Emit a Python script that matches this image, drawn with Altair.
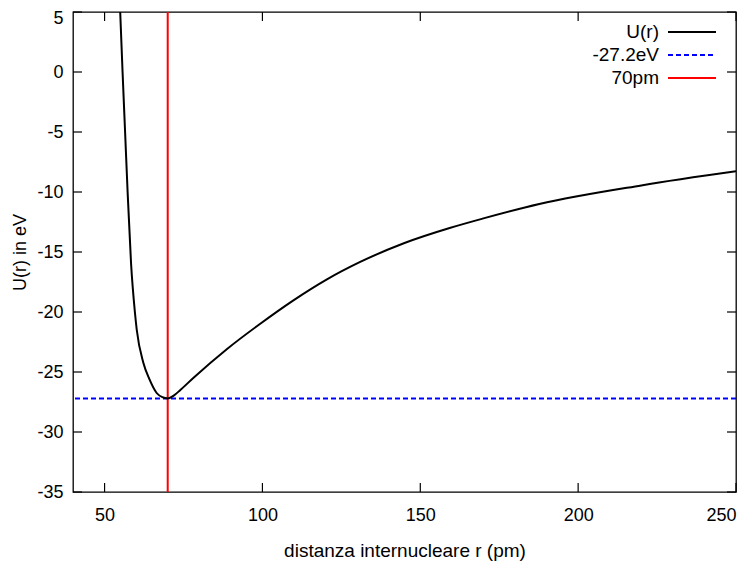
import altair as alt
import pandas as pd

# Curve U(r)
r_vals = [54.95, 55.7, 56.5, 57.3, 58.4, 59.6, 60.2, 62.3, 64.2, 66.5, 68.3, 70.0,
          72.0, 74.0, 78.1, 88.7, 99.2, 109.7, 120.3, 130.8, 145.0, 159.3, 170.0,
          187.7, 220.0, 250.0]
u_vals = [5.0, 0.0, -5.0, -10.0, -16.0, -20.0, -21.5, -24.25, -25.6, -26.75, -27.1, -27.2,
          -26.95, -26.5, -25.5, -23.1, -21.0, -19.05, -17.3, -15.85, -14.25, -13.0, -12.2,
          -11.0, -9.45, -8.28]

energy_level = -27.2
bond_length = 70

x_ticks = [50, 100, 150, 200, 250]
y_ticks = [-35, -30, -25, -20, -15, -10, -5, 0, 5]

legend_labels = ["U(r)", "-27.2eV", "70pm"]
legend_colors = ["#000000", "#0000ff", "#ff0000"]
legend_dash = [[1, 0], [5, 3], [1, 0]]

W, H = 663, 480
FONT = "Liberation Sans"
FS = 18
FS_T = 19
TICK = 9

curve = pd.DataFrame({"r": r_vals, "U": u_vals})
xt = pd.DataFrame({"v": x_ticks})
yt = pd.DataFrame({"v": y_ticks})

xscale = alt.Scale(domain=[40, 250], nice=False, zero=False)
yscale = alt.Scale(domain=[-35, 5], nice=False, zero=False)

base = alt.Chart(curve).mark_line(color="black", strokeWidth=2, clip=True, interpolate="monotone").encode(
    x=alt.X("r:Q", scale=xscale,
            axis=alt.Axis(values=x_ticks, ticks=False, domain=False, grid=False,
                          labelExpr="'' + datum.value",
                          labelFont=FONT, labelFontSize=FS, labelColor="black", labelPadding=14,
                          title="distanza internucleare r (pm)", titleFont=FONT,
                          titleFontSize=FS_T, titleFontWeight="normal", titleColor="black",
                          titlePadding=17)),
    y=alt.Y("U:Q", scale=yscale,
            axis=alt.Axis(values=y_ticks, ticks=False, domain=False, grid=False,
                          labelExpr="'' + datum.value",
                          labelOffset={"condition": {"test": "datum.value == 5", "value": 6}, "value": 0},
                          labelFont=FONT, labelFontSize=FS, labelColor="black", labelPadding=10,
                          title="U(r) in eV", titleFont=FONT, titleFontSize=FS,
                          titleFontWeight="normal", titleColor="black", titlePadding=7)),
)

hline = alt.Chart(pd.DataFrame({"y": [energy_level]})).mark_rule(
    color="#0000ff", strokeWidth=2, strokeDash=[5, 3]).encode(y=alt.Y("y:Q", scale=yscale))
vline = alt.Chart(pd.DataFrame({"x": [bond_length]})).mark_rule(
    color="#ff0000", strokeWidth=2).encode(x=alt.X("x:Q", scale=xscale))

TC = "black"
xt_bot = alt.Chart(xt).mark_rule(color=TC, strokeWidth=1.2).encode(
    x=alt.X("v:Q", scale=xscale), y=alt.value(H), y2=alt.value(H - TICK))
xt_top = alt.Chart(xt).mark_rule(color=TC, strokeWidth=1.2).encode(
    x=alt.X("v:Q", scale=xscale), y=alt.value(0), y2=alt.value(TICK))
yt_left = alt.Chart(yt).mark_rule(color=TC, strokeWidth=1.2).encode(
    y=alt.Y("v:Q", scale=yscale), x=alt.value(0), x2=alt.value(TICK))
yt_right = alt.Chart(yt).mark_rule(color=TC, strokeWidth=1.2).encode(
    y=alt.Y("v:Q", scale=yscale), x=alt.value(W), x2=alt.value(W - TICK))

layers = [hline, vline, base, xt_bot, xt_top, yt_left, yt_right]

row_y = [20, 43, 66]
for lab, col, dash, yy in zip(legend_labels, legend_colors, legend_dash, row_y):
    ld = pd.DataFrame({"label": [lab]})
    layers.append(alt.Chart(ld).mark_text(align="right", baseline="middle", font=FONT,
                                          fontSize=FS_T, color="black").encode(
        text="label:N", x=alt.value(586), y=alt.value(yy)))
    layers.append(alt.Chart(ld).mark_rule(color=col, strokeWidth=2, strokeDash=dash).encode(
        x=alt.value(595), x2=alt.value(643), y=alt.value(yy)))

chart = alt.layer(*layers).properties(
    width=W, height=H,
    padding={"left": 65, "top": 4, "right": 8, "bottom": 70},
    autosize=alt.AutoSizeParams(type="none"),
    background="white",
).configure_view(stroke="black", strokeWidth=1.3)

chart.save("out.html", embed_options={"renderer": "svg", "actions": False})
